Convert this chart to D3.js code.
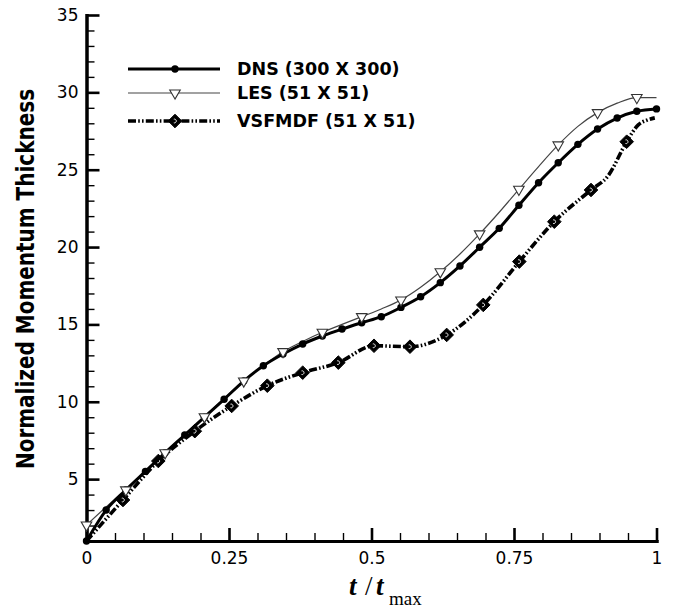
<!DOCTYPE html>
<html>
<head>
<meta charset="utf-8">
<script src="https://cdn.jsdelivr.net/npm/d3@7"></script>
<style>
  html, body { margin: 0; padding: 0; background: #fff; }
  svg { display: block; }
</style>
</head>
<body>
<svg id="chart" width="676" height="608"></svg>
<script>
// ---------------- DATA ----------------
const seriesNames = ["DNS (300 X 300)", "LES (51 X 51)", "VSFMDF (51 X 51)"];

const dnsT = [0, 0.0345, 0.069, 0.1034, 0.1379, 0.1724, 0.2069, 0.2414, 0.2759, 0.3103,
              0.3448, 0.3793, 0.4138, 0.4483, 0.4828, 0.5172, 0.5517, 0.5862, 0.6207, 0.6552,
              0.6897, 0.7241, 0.7586, 0.7931, 0.8276, 0.8621, 0.8966, 0.931, 0.9655, 1];
const dnsV = [1.0, 3.0, 4.3, 5.5, 6.7, 7.85, 9.0, 10.16, 11.34, 12.33,
              13.09, 13.73, 14.25, 14.7, 15.11, 15.5, 16.1, 16.79, 17.7, 18.78,
              19.99, 21.21, 22.7, 24.16, 25.45, 26.64, 27.63, 28.34, 28.78, 28.93];

const lesT = dnsT;
const lesV = [2.03, 3.2, 4.3, 5.5, 6.7, 7.9, 9.03, 10.2, 11.34, 12.35,
              13.24, 13.9, 14.49, 15.0, 15.5, 16.0, 16.58, 17.4, 18.4, 19.55,
              20.85, 22.25, 23.73, 25.2, 26.6, 27.8, 28.69, 29.3, 29.66, 29.66];
const lesMarker = [1,0,1,0,1,0,1,0,1,0,1,0,1,0,1,0,1,0,1,0,1,0,1,0,1,0,1,0,1,0];

const vsfT = [0, 0.064, 0.126, 0.190, 0.2547, 0.3172, 0.3793, 0.4418, 0.5044, 0.5675,
              0.6319, 0.6961, 0.7593, 0.8207, 0.8851, 0.915, 0.9477, 0.968, 0.983, 0.997];
const vsfV = [1.0, 3.65, 6.17, 8.1, 9.73, 11.04, 11.88, 12.53, 13.62, 13.56,
              14.32, 16.26, 19.06, 21.64, 23.69, 24.6, 26.81, 27.9, 28.2, 28.35];
const vsfMarker = [0,1,1,1,1,1,1,1,1,1,1,1,1,1,1,0,1,0,0,0];

const xMajorTicks = [0, 0.25, 0.5, 0.75, 1];
const xTickLabels = ["0", "0.25", "0.5", "0.75", "1"];
const yMajorTicks = [5, 10, 15, 20, 25, 30, 35];
const yTickLabels = ["5", "10", "15", "20", "25", "30", "35"];
const xMinorTicks = [0.05,0.1,0.15,0.2,0.3,0.35,0.4,0.45,0.55,0.6,0.65,0.7,0.8,0.85,0.9,0.95];
const yMinorTicks = [2,3,4,6,7,8,9,11,12,13,14,16,17,18,19,21,22,23,24,26,27,28,29,31,32,33,34];

// ---------------- LAYOUT ----------------
const svg = d3.select("#chart");
const x = d3.scaleLinear().domain([0, 1]).range([86.5, 656.5]);
const y = d3.scaleLinear().domain([1, 35]).range([541, 15]);

const tickFont = "DejaVu Sans, sans-serif";

// Axes: major
const gx = svg.append("g").attr("transform", `translate(0,${y(1)})`)
  .call(d3.axisBottom(x).tickValues(xMajorTicks).tickFormat((d, i) => xTickLabels[i])
        .tickSizeInner(-13).tickSizeOuter(0).tickPadding(11));
const gy = svg.append("g").attr("transform", `translate(${x(0)},0)`)
  .call(d3.axisLeft(y).tickValues(yMajorTicks).tickFormat((d, i) => yTickLabels[i])
        .tickSizeInner(-13).tickSizeOuter(0).tickPadding(8));
// Minor ticks
const gxm = svg.append("g").attr("transform", `translate(0,${y(1)})`)
  .call(d3.axisBottom(x).tickValues(xMinorTicks).tickFormat("").tickSizeInner(-8).tickSizeOuter(0));
const gym = svg.append("g").attr("transform", `translate(${x(0)},0)`)
  .call(d3.axisLeft(y).tickValues(yMinorTicks).tickFormat("").tickSizeInner(-8).tickSizeOuter(0));

[gx, gy, gxm, gym].forEach(g => {
  g.select(".domain").attr("stroke", "#000").attr("stroke-width", 3).attr("stroke-linecap", "square");
});
[gx, gy].forEach(g => g.selectAll(".tick line").attr("stroke", "#000").attr("stroke-width", 2.6));
[gxm, gym].forEach(g => g.selectAll(".tick line").attr("stroke", "#000").attr("stroke-width", 1.4));
gx.selectAll(".tick text").attr("font-family", tickFont).attr("font-size", 17).attr("fill", "#000");
gy.selectAll(".tick text").attr("font-family", tickFont).attr("font-size", 17).attr("fill", "#000");

// Axis titles
svg.append("text")
  .attr("transform", `translate(34,279) rotate(-90) scale(1,1.22)`)
  .attr("text-anchor", "middle")
  .attr("font-family", "DejaVu Sans, sans-serif")
  .attr("font-weight", "bold")
  .attr("font-size", 20)
  .text("Normalized Momentum Thickness");

const titleFont = "Liberation Serif, serif";
svg.append("text").attr("x", 349).attr("y", 595)
  .attr("font-family", titleFont).attr("font-size", 27)
  .attr("font-weight", "bold").attr("font-style", "italic").text("t");
svg.append("text").attr("x", 365).attr("y", 595)
  .attr("font-family", titleFont).attr("font-size", 27).text("/");
svg.append("text").attr("x", 376).attr("y", 595)
  .attr("font-family", titleFont).attr("font-size", 27)
  .attr("font-weight", "bold").attr("font-style", "italic").text("t");
svg.append("text").attr("x", 389).attr("y", 605)
  .attr("font-family", titleFont).attr("font-size", 19).text("max");

// ---------------- SERIES ----------------
const line = d3.line().x(d => x(d[0])).y(d => y(d[1])).curve(d3.curveMonotoneX);

const dnsData = dnsT.map((t, i) => [t, dnsV[i]]);
const lesData = lesT.map((t, i) => [t, lesV[i]]);
const vsfData = vsfT.map((t, i) => [t, vsfV[i]]);

const vsfDash = "8,2.2,1.6,2.2,1.6,2.2";
const diamondPath = "M0,-6.8L6.8,0L0,6.8L-6.8,0Z";
const triPath = d3.symbol().type(d3.symbolTriangle).size(48)();

function drawDiamond(g, cx, cy) {
  const m = g.append("g").attr("transform", `translate(${cx},${cy})`);
  m.append("path").attr("d", diamondPath).attr("fill", "#000").attr("stroke", "#000").attr("stroke-width", 1);
  m.append("path").attr("d", "M-1.2,-1.8A1.9,1.9 0 1,1 -1.2,1.8")
    .attr("fill", "none").attr("stroke", "#fff").attr("stroke-width", 0.9);
}
function drawTri(g, cx, cy) {
  g.append("path").attr("d", triPath)
    .attr("transform", `translate(${cx},${cy}) rotate(180)`)
    .attr("fill", "#fff").attr("stroke", "#333").attr("stroke-width", 1.1);
}

const plot = svg.append("g");

// VSFMDF
plot.append("path").datum(vsfData).attr("d", line)
  .attr("fill", "none").attr("stroke", "#000").attr("stroke-width", 3.6)
  .attr("stroke-dasharray", vsfDash);
vsfData.forEach((d, i) => { if (vsfMarker[i]) drawDiamond(plot, x(d[0]), y(d[1])); });

// LES
plot.append("path").datum(lesData).attr("d", line)
  .attr("fill", "none").attr("stroke", "#444").attr("stroke-width", 1.2);

// DNS
plot.append("path").datum(dnsData).attr("d", line)
  .attr("fill", "none").attr("stroke", "#000").attr("stroke-width", 3);
plot.selectAll("circle.dns").data(dnsData).join("circle").attr("class", "dns")
  .attr("cx", d => x(d[0])).attr("cy", d => y(d[1])).attr("r", 3.7).attr("fill", "#000");

lesData.forEach((d, i) => { if (lesMarker[i]) drawTri(plot, x(d[0]), y(d[1])); });

// ---------------- LEGEND ----------------
const legY = [69, 93, 121];
const legX0 = 128, legX1 = 220, legXm = 175, legTx = 237;
const leg = svg.append("g");
leg.append("line").attr("x1", legX0).attr("x2", legX1).attr("y1", legY[0]).attr("y2", legY[0])
  .attr("stroke", "#000").attr("stroke-width", 3);
leg.append("circle").attr("cx", legXm).attr("cy", legY[0]).attr("r", 3.7).attr("fill", "#000");
leg.append("line").attr("x1", legX0).attr("x2", legX1).attr("y1", legY[1]).attr("y2", legY[1])
  .attr("stroke", "#444").attr("stroke-width", 1.2);
drawTri(leg, legXm, legY[1]);
leg.append("line").attr("x1", legX0).attr("x2", legX1).attr("y1", legY[2]).attr("y2", legY[2])
  .attr("stroke", "#000").attr("stroke-width", 3.6).attr("stroke-dasharray", vsfDash);
drawDiamond(leg, legXm, legY[2]);

seriesNames.forEach((name, i) => {
  leg.append("text").attr("x", legTx).attr("y", legY[i]).attr("dy", "0.36em")
    .attr("font-family", "DejaVu Sans, sans-serif").attr("font-weight", "bold")
    .attr("font-size", 17.5).attr("fill", "#000").text(name);
});
</script>
</body>
</html>
